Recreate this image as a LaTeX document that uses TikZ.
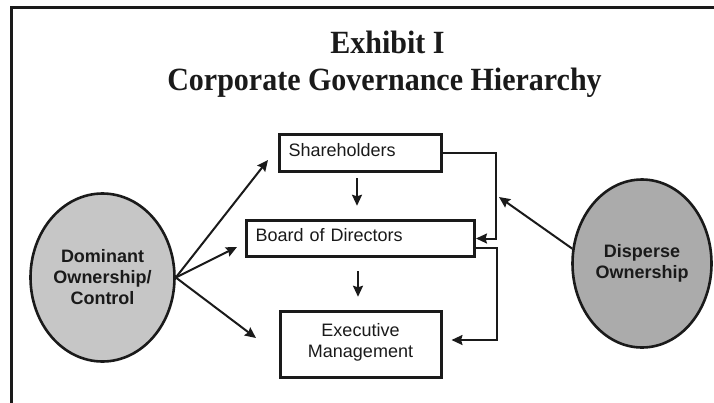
\documentclass[tikz,border=0pt]{standalone}
\usepackage{fontspec}
\setmainfont{Liberation Sans}
\newfontfamily\titlefont{Liberation Serif}
\usetikzlibrary{arrows.meta,shapes.geometric}
\definecolor{ink}{HTML}{1A1A1A}
\definecolor{lightgrey}{HTML}{C6C6C6}
\definecolor{darkgrey}{HTML}{ABABAB}

\begin{document}
\begin{tikzpicture}[x=1pt,y=-1pt,
		level/.style={draw=ink,line width=3pt,text=ink,font=\fontsize{18}{21}\selectfont,inner xsep=9pt,text height=13pt,text depth=7pt,minimum height=36.5pt},
		owner/.style={draw=ink,line width=2.6pt,ellipse,inner sep=0pt,minimum height=168pt,align=center,text=ink,font=\fontsize{18}{21}\selectfont\bfseries},
		heading/.style={anchor=base,text=ink,font=\titlefont\bfseries\fontsize{30}{36}\selectfont},
		link/.style={draw=ink,line width=2pt,-{Stealth[length=11pt,width=10pt,inset=1.5pt]}}]
		\clip (0,0) rectangle (714,402);
		\draw[ink,line width=3pt] (11,7) rectangle (760,440);
		\node[heading] (exhibit) at (387.5,53) {\scalebox{1}[1.08]{Exhibit I}};
		\node[heading] (title) at (384.5,90) {\scalebox{1}[1.08]{Corporate Governance Hierarchy}};
		\node[level,text width=144pt,align=left] (share) at (360.5,153) {Shareholders};
		\node[level,text width=210pt,align=left] (board) at (360.5,238.5) {Board of Directors};
		\node[level,text width=143pt,align=center,text depth=29pt,minimum height=66.5pt] (exec) at (360.5,344.5) {Executive\\Management};
		\node[owner,fill=lightgrey,minimum width=144pt] (dom) at (102.5,277.5) {Dominant\\Ownership/\\Control};
		\node[owner,fill=darkgrey,minimum width=139pt] (disp) at (642,263.5) {Disperse\\Ownership};
		\coordinate (toshare) at (268,160);
		\coordinate (toboard) at (237,247);
		\coordinate (toexec) at (256,338);
		\coordinate (todisp) at (499,197);
		\draw[link] (dom.east) -- (toshare);
		\draw[link] (dom.east) -- (toboard);
		\draw[link] (dom.east) -- (toexec);
		\draw[link] (disp.168) -- (todisp);
		\draw[link,shorten <=5.5pt,shorten >=13pt] ([xshift=-3.5pt]share.south) -- ([xshift=-3.5pt]board.north);
		\draw[link,shorten <=13pt,shorten >=13pt] ([xshift=-2.5pt]board.south) -- ([xshift=-2.5pt]exec.north);
		\draw[link] (share.east) -- ++(53,0) |- (board.east);
		\draw[link] ([yshift=-9.5pt]board.east) -- ++(21,0) |- ([xshift=9pt,yshift=4.5pt]exec.east);
	\end{tikzpicture}
\end{document}
